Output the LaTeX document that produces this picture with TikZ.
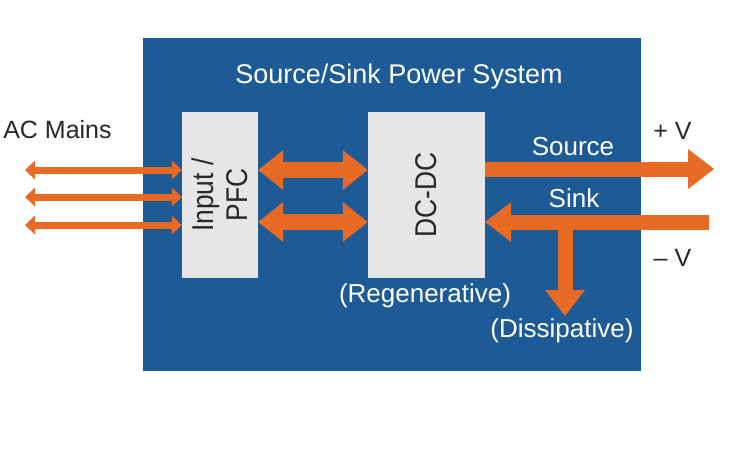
\documentclass[tikz,border=0pt]{standalone}
\usepackage{fontspec}
\setmainfont{Liberation Sans}
\newfontfamily\boxfont[FakeStretch=0.88]{Liberation Sans}
\usetikzlibrary{arrows.meta}
\definecolor{sysblue}{RGB}{30,90,150}
\definecolor{arrorange}{RGB}{232,107,37}
\definecolor{boxgrey}{RGB}{230,230,230}
\definecolor{txtdark}{RGB}{40,40,40}
\begin{document}
\begin{tikzpicture}[x=1pt,y=-1pt,
  lbl/.style={font=\fontsize{26}{31}\selectfont, inner sep=0pt, anchor=base},
  wlbl/.style={lbl,text=white},
  dlbl/.style={lbl,text=txtdark},
  boxtext/.style={font=\boxfont\fontsize{30}{34}\selectfont, inner sep=0pt, text=txtdark, rotate=90, align=center},
  sysbox/.style={fill=sysblue,minimum width=498pt,minimum height=333pt,inner sep=0pt},
  blockbox/.style={fill=boxgrey,inner sep=0pt,minimum height=166pt},
  thinarrow/.style={color=arrorange,line width=7pt,
    {Triangle[width=19pt,length=10pt,line width=0pt]}-{Triangle[width=19pt,length=10pt,line width=0pt]}},
  midarrow/.style={color=arrorange,line width=16pt,
    {Triangle[width=40pt,length=25pt,line width=0pt]}-{Triangle[width=40pt,length=25pt,line width=0pt]}},
  bigarrow/.style={color=arrorange,line width=15pt,
    -{Triangle[width=40pt,length=26pt,line width=0pt]}}
]
\useasboundingbox (0,0) rectangle (742,461);
\fill[white] (0,0) rectangle (742,461);

% system box
\node[sysbox] (sys) at (392,204.5) {};
\node[wlbl,font=\fontsize{27}{32}\selectfont] (title) at (399,83) {Source/Sink Power System};

% blocks
\node[blockbox,minimum width=76pt] (pfc) at (220,195) {};
\node[boxtext] (pfctext) at (pfc.center) {Input /\\PFC};
\node[blockbox,minimum width=117pt] (dcdc) at (426.5,195) {};
\node[boxtext] (dcdctext) at (dcdc.center) {DC-DC};

% coordinates
\coordinate (ac1) at (25,170);
\coordinate (ac2) at (25,197);
\coordinate (ac3) at (25,225);
\coordinate (m1) at (300,170);
\coordinate (m2) at (300,222);
\coordinate (vplus) at (714,169);
\coordinate (vminus) at (709,222);
\coordinate (tap) at (565,222);
\coordinate (diss) at (565,316);

% AC mains arrows
\draw[thinarrow] (ac1) -- (pfc.west |- ac1);
\draw[thinarrow] (ac2) -- (pfc.west |- ac2);
\draw[thinarrow] (ac3) -- (pfc.west |- ac3);

% PFC <-> DC-DC
\draw[midarrow] (pfc.east |- m1) -- (dcdc.west |- m1);
\draw[midarrow] (pfc.east |- m2) -- (dcdc.west |- m2);

% source / sink
\draw[bigarrow] (dcdc.east |- vplus) -- (vplus);
\draw[bigarrow] (vminus) -- (dcdc.east |- vminus);
\draw[bigarrow] (tap) -- (diss);

% labels
\node[dlbl,font=\fontsize{25}{30}\selectfont] (acmains) at (57.5,138) {AC Mains};
\node[dlbl,font=\fontsize{25}{30}\selectfont] (plusv) at (672.5,139) {+ V};
\node[dlbl,font=\fontsize{25}{30}\selectfont] (minusv) at (672.5,266) {– V};
\node[wlbl] (source) at (573,155) {Source};
\node[wlbl] (sink) at (574,207) {Sink};
\node[wlbl] (regen) at (425,302) {(Regenerative)};
\node[wlbl] (dissip) at (562,337) {(Dissipative)};
\end{tikzpicture}
\end{document}
